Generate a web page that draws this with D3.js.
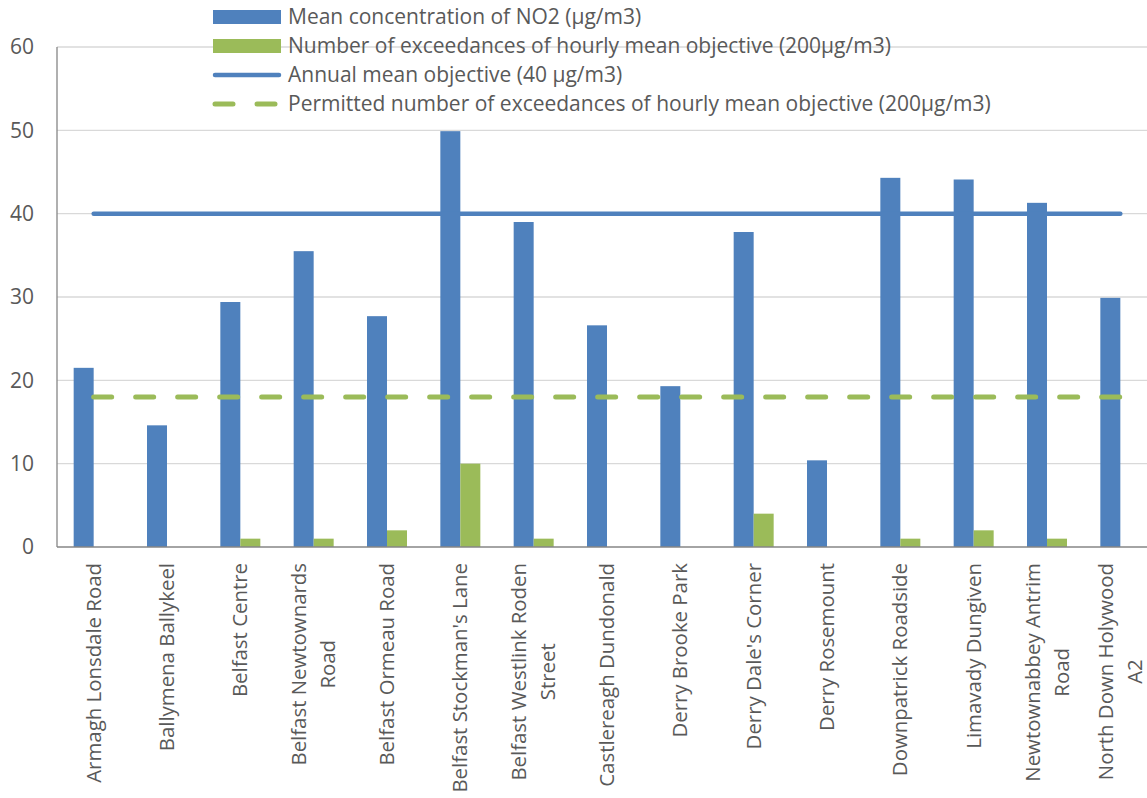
<!DOCTYPE html>
<html><head><meta charset="utf-8">
<script src="https://cdn.jsdelivr.net/npm/d3@7"></script>
<style>
html,body{margin:0;padding:0;background:#fff;}
svg{display:block;font-family:"Open Sans",sans-serif;}
</style></head>
<body>
<svg id="chart" width="1147" height="798"></svg>
<script>
const categories = [
  ["Armagh Lonsdale Road"],
  ["Ballymena Ballykeel"],
  ["Belfast Centre"],
  ["Belfast Newtownards", "Road"],
  ["Belfast Ormeau Road"],
  ["Belfast Stockman's Lane"],
  ["Belfast Westlink Roden", "Street"],
  ["Castlereagh Dundonald"],
  ["Derry Brooke Park"],
  ["Derry Dale's Corner"],
  ["Derry Rosemount"],
  ["Downpatrick Roadside"],
  ["Limavady Dungiven"],
  ["Newtownabbey Antrim", "Road"],
  ["North Down Holywood", "A2"]
];
const meanNO2 = [21.5, 14.6, 29.4, 35.5, 27.7, 49.9, 39.0, 26.6, 19.3, 37.8, 10.4, 44.3, 44.1, 41.3, 29.9];
const exceedances = [0, 0, 1, 1, 2, 10, 1, 0, 0, 4, 0, 1, 2, 1, 0];
const annualObjective = 40;
const permittedExceedances = 18;
const yTicks = [0, 10, 20, 30, 40, 50, 60];
const legendLabels = [
  "Mean concentration of NO2 (\u00b5g/m3)",
  "Number of exceedances of hourly mean objective (200\u00b5g/m3)",
  "Annual mean objective (40 \u00b5g/m3)",
  "Permitted number of exceedances of hourly mean objective (200\u00b5g/m3)"
];

(function(){
const BLUE = "#4F81BD", GREEN = "#9BBB59", TXT = "#595959";
const FS = 21, FSL = 20.4;
const svg = d3.select("#chart");
const pLeft = 57, pRight = 1157, pTop = 47, pBottom = 547;
const keys = categories.map(d => d.join(" "));

const x0 = d3.scaleBand().domain(keys).range([pLeft, pRight]).padding(0);
const bw = x0.bandwidth();
const x1 = d3.scaleBand().domain(["mean", "exc"]).range([bw / 2 - bw * 0.2727, bw / 2 + bw * 0.2727]).padding(0);
const y = d3.scaleLinear().domain([0, 60]).range([pBottom, pTop]);

// gridlines
svg.append("g").selectAll("line").data(yTicks.filter(d => d > 0)).join("line")
  .attr("x1", pLeft).attr("x2", 1147)
  .attr("y1", d => y(d)).attr("y2", d => y(d))
  .attr("stroke", "#D9D9D9").attr("stroke-width", 1.3);

// y axis labels
svg.append("g").selectAll("text").data(yTicks).join("text")
  .attr("x", 34).attr("y", d => y(d)).attr("dy", "0.35em")
  .attr("text-anchor", "end").attr("font-size", FS).attr("fill", TXT)
  .text(d => d);

// bars
const g = svg.append("g");
g.selectAll("rect.mean").data(meanNO2).join("rect").attr("class", "mean")
  .attr("x", (d, i) => x0(keys[i]) + x1("mean"))
  .attr("width", x1.bandwidth())
  .attr("y", d => y(d)).attr("height", d => y(0) - y(d))
  .attr("fill", BLUE);
g.selectAll("rect.exc").data(exceedances).join("rect").attr("class", "exc")
  .attr("x", (d, i) => x0(keys[i]) + x1("exc"))
  .attr("width", x1.bandwidth())
  .attr("y", d => y(d)).attr("height", d => y(0) - y(d))
  .attr("fill", GREEN);

// axes lines
svg.append("line").attr("x1", pLeft).attr("x2", pLeft).attr("y1", pTop).attr("y2", pBottom)
  .attr("stroke", "#868686").attr("stroke-width", 1.3);
svg.append("line").attr("x1", pLeft).attr("x2", 1147).attr("y1", pBottom).attr("y2", pBottom)
  .attr("stroke", "#868686").attr("stroke-width", 1.3);

// reference lines
const cx0 = x0(keys[0]) + bw / 2, cxN = x0(keys[keys.length - 1]) + bw / 2;
const line = d3.line().x(d => d[0]).y(d => y(d[1]));
svg.append("path").attr("d", line([[cx0, annualObjective], [cxN, annualObjective]]))
  .attr("stroke", BLUE).attr("stroke-width", 4.5).attr("stroke-linecap", "round").attr("fill", "none");
svg.append("path").attr("d", line([[cx0, permittedExceedances], [cxN, permittedExceedances]]))
  .attr("stroke", GREEN).attr("stroke-width", 5).attr("stroke-linecap", "round")
  .attr("stroke-dasharray", "18,24").attr("fill", "none");

// category labels
const labY = 563;
categories.forEach((lines, i) => {
  const cx = x0(keys[i]) + bw / 2;
  const lh = 29;
  const n = lines.length;
  const tmp = svg.append("text").attr("font-size", FSL).style("visibility", "hidden");
  let maxW = 0;
  lines.forEach(l => { tmp.text(l); maxW = Math.max(maxW, tmp.node().getComputedTextLength()); });
  tmp.remove();
  const t = svg.append("text").attr("font-size", FSL).attr("fill", TXT)
    .attr("transform", `translate(${cx},${labY}) rotate(-90)`);
  lines.forEach((l, j) => {
    const off = (j - (n - 1) / 2) * lh;
    t.append("tspan").attr("x", -maxW / 2).attr("y", off).attr("dy", "0.35em")
      .attr("text-anchor", "middle").text(l);
  });
});

// legend
const lgX = 213, lgW = 68, lgTx = 288, lgY0 = 17, lgDy = 29;
const lg = svg.append("g");
legendLabels.forEach((lab, i) => {
  const cy = lgY0 + i * lgDy;
  if (i < 2) {
    lg.append("rect").attr("x", lgX).attr("y", cy - 7).attr("width", lgW).attr("height", 14)
      .attr("fill", i === 0 ? BLUE : GREEN);
  } else if (i === 2) {
    lg.append("line").attr("x1", lgX + 2).attr("x2", lgX + lgW - 2).attr("y1", cy).attr("y2", cy)
      .attr("stroke", BLUE).attr("stroke-width", 4.5).attr("stroke-linecap", "round");
  } else {
    lg.append("line").attr("x1", lgX + 2).attr("x2", lgX + lgW - 2).attr("y1", cy).attr("y2", cy)
      .attr("stroke", GREEN).attr("stroke-width", 5).attr("stroke-linecap", "round")
      .attr("stroke-dasharray", "18,24");
  }
  lg.append("text").attr("x", lgTx).attr("y", cy).attr("dy", "0.35em")
    .attr("font-size", FS).attr("fill", TXT).text(lab);
});
})();
</script>
</body></html>
